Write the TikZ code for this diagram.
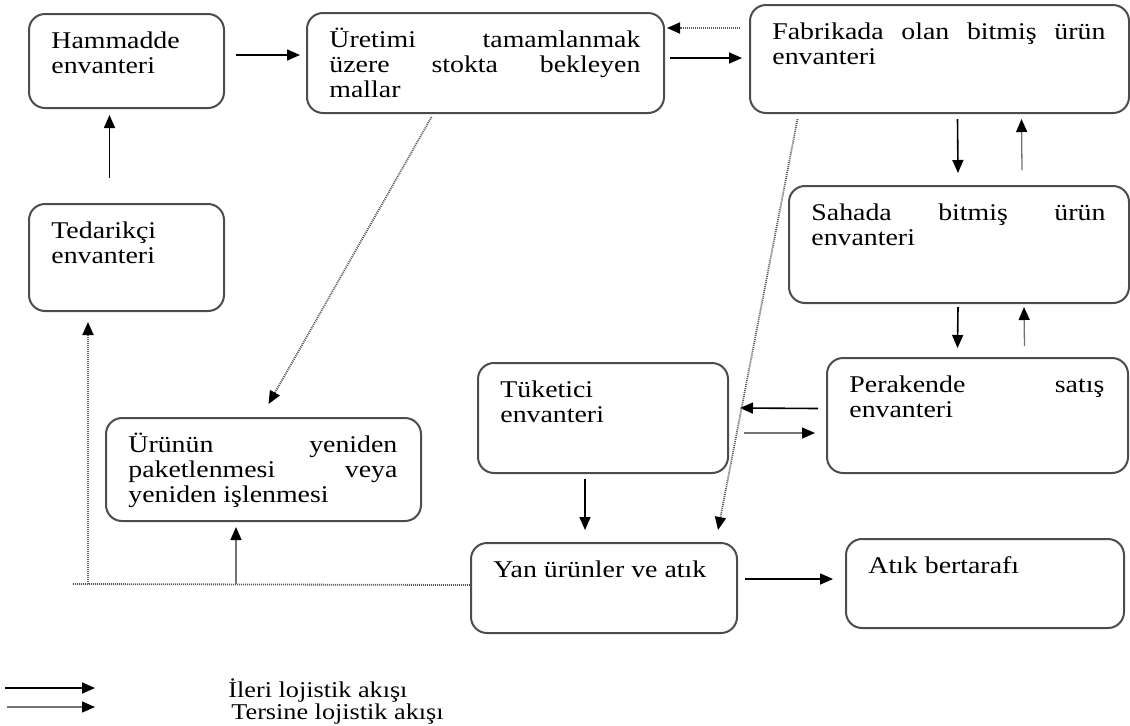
\documentclass[tikz,border=0pt]{standalone}
\usepackage{fontspec}
\setmainfont{Liberation Serif}[FakeStretch=1.16]
\usetikzlibrary{arrows.meta,calc}

\tikzset{
  box/.style={draw=black!70, line width=1pt, rounded corners=8pt, inner sep=0pt},
  boxtext/.style={inner sep=0pt, align=justify, anchor=north west,
                  font=\fontsize{12}{12.5}\selectfont},
  legtext/.style={inner sep=0pt, anchor=base west, font=\fontsize{11.3}{12}\selectfont},
  tip/.style={-{Triangle[length=6.5pt,width=5.5pt,color=black]}},
  fwd/.style={tip, draw=black, line width=0.8pt},
  rev/.style={tip, draw=black!55, line width=0.65pt},
  revdot/.style={draw=black!65, line width=0.9pt, dash pattern=on 0.5pt off 0.5pt},
}

% #1 name, (#2,#3) top-left and (#4,#5) bottom-right corner in px, #6 text
\newcommand\flowbox[6]{%
  \pgfmathsetlengthmacro\fbw{(#4-#2)*0.5pt}%
  \pgfmathsetlengthmacro\fbh{(#5-#3)*0.5pt}%
  \pgfmathsetlengthmacro\fbt{(#4-#2-46)*0.5pt}%
  \node[box, minimum width=\fbw, minimum height=\fbh, anchor=north west] (#1) at (#2,#3) {};
  \node[boxtext, text width=\fbt] (#1-t) at ($(#1.north west)+(23,13)$)
       {\rule{0pt}{10.8pt}#6};%
}

\begin{document}
\begin{tikzpicture}[x=0.5pt, y=-0.5pt]
  \useasboundingbox (0,0) rectangle (1130,725);

  % inventory boxes
  \flowbox{ham}{28}{13}{223}{107}{Hammadde\\envanteri}
  \flowbox{ure}{306}{12}{663}{112}{Üretimi tamamlanmak \linebreak üzere stokta bekleyen \linebreak mallar}
  \flowbox{fab}{749}{4}{1128}{112}{Fabrikada olan bitmiş ürün \linebreak envanteri}
  \flowbox{sah}{788}{185}{1128}{302}{Sahada bitmiş ürün \linebreak envanteri}
  \flowbox{ted}{28}{203}{223}{310}{Tedarikçi\\envanteri}
  \flowbox{tuk}{477}{362}{727}{472}{Tüketici\\envanteri}
  \flowbox{per}{826}{357}{1127}{472}{Perakende satış \linebreak envanteri}
  \flowbox{uru}{105}{417}{420}{520}{Ürünün yeniden \linebreak paketlenmesi veya \linebreak yeniden işlenmesi}
  \flowbox{yan}{470}{542}{736}{632}{Yan ürünler ve atık}
  \flowbox{atk}{845}{538}{1123}{627}{Atık bertarafı}

  % forward flow
  \draw[fwd] ($(ham.east)+(11,-6)$) -- ($(ure.west)+(-6,-8)$);
  \draw[fwd] ($(ure.east)+(5,-5)$) -- ($(fab.west)+(-7,-1)$);
  \draw[fwd] ($(fab.south)+(18,5)$) -- ($(sah.north)+(-1,-12)$);
  \draw[fwd] ($(sah.south)+(-1,3)$) -- ($(per.north)+(-20,-9)$);
  \draw[fwd] ($(per.west)+(-8,-7)$) -- ($(tuk.east)+(11,-10)$);
  \draw[fwd] ($(tuk.south)+(-18,5)$) -- ($(yan.north)+(-19,-12)$);
  \draw[fwd] ($(yan.east)+(7,-9)$) -- ($(atk.west)+(-12,-4.5)$);
  \draw[fwd] ($(ted.north)+(-17,-25)$) -- ($(ham.south)+(-17,6)$);

  % reverse flow
  \draw[rev] ($(sah.north)+(63,-15)$) -- ($(fab.south)+(82,5)$);
  \draw[rev] ($(per.north)+(47,-11)$) -- ($(sah.south)+(65,3)$);
  \draw[rev] ($(tuk.east)+(15,15)$) -- ($(per.west)+(-11,17.5)$);
  \draw[revdot, tip] ($(fab.west)+(-9,-31)$) -- ($(ure.east)+(2,-35)$);
  \draw[revdot, tip] ($(fab.south)+(-142,5)$) -- ($(yan.north)+(114,-12)$);
  \draw[revdot, tip] ($(ure.south)+(-54,3)$) -- ($(uru.north)+(5,-13)$);

  % return line from by-products and waste
  \coordinate (retL) at (72,584);
  \coordinate (retT) at (88,584);
  \coordinate (retU) at (236,584);
  \draw[revdot] ($(yan.west)+(0,-3)$) -- (retL);
  \draw[revdot, tip] (retT) -- ($(ted.south west)+(60,10)$);
  \draw[rev] (retU) -- ($(uru.south west)+(131,5)$);

  % legend
  \coordinate (lgfa) at (5,688);
  \coordinate (lgfb) at (95,688);
  \coordinate (lgra) at (7,707);
  \coordinate (lgrb) at (95,707);
  \draw[fwd] (lgfa) -- (lgfb);
  \draw[rev] (lgra) -- (lgrb);
  \node[legtext] (lgf) at (228,697) {İleri lojistik akışı};
  \node[legtext] (lgr) at (231,719) {Tersine lojistik akışı};
\end{tikzpicture}
\end{document}
